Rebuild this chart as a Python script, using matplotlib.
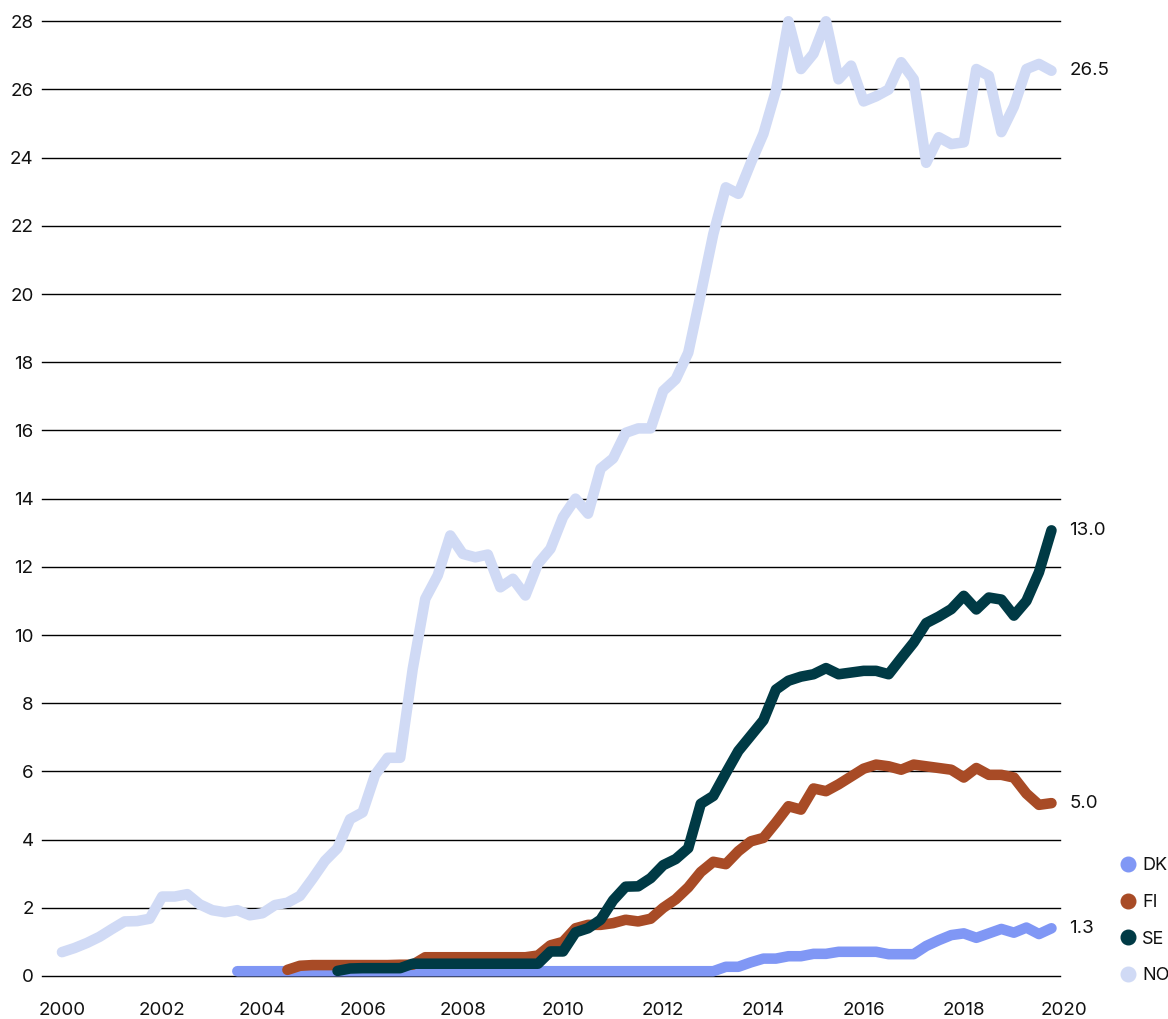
import matplotlib.pyplot as plt
from matplotlib.lines import Line2D
import numpy as np

plt.rcParams['font.family'] = ['Inter', 'DejaVu Sans']

nan = np.nan

# quarterly observations, 2000 Q1 .. 2019 Q4
quarters = 2000 + np.arange(80) / 4

countries = ['DK', 'FI', 'SE', 'NO']
colors = ['#8097f5', '#a84b26', '#003a45', '#d0daf5']
end_labels = ['1.3', '5.0', '13.0', '26.5']

no_values = [0.70, 0.82, 0.97, 1.15, 1.38, 1.60, 1.61, 1.68, 2.33, 2.33,
             2.40, 2.10, 1.93, 1.87, 1.93, 1.78, 1.84, 2.08, 2.15, 2.35,
             2.85, 3.38, 3.75, 4.60, 4.80, 5.90, 6.40, 6.40, 9.00, 11.06,
             11.75, 12.92, 12.38, 12.28, 12.36, 11.40, 11.65, 11.16, 12.09, 12.53,
             13.46, 14.00, 13.56, 14.88, 15.18, 15.93, 16.06, 16.06, 17.16, 17.50,
             18.28, 20.00, 21.76, 23.13, 22.94, 23.85, 24.70, 25.97, 28.00, 26.60,
             27.05, 28.00, 26.30, 26.70, 25.65, 25.80, 26.00, 26.80, 26.30, 23.85,
             24.60, 24.40, 24.45, 26.60, 26.40, 24.75, 25.50, 26.60, 26.75, 26.55]

se_values = [nan, nan, nan, nan, nan, nan, nan, nan, nan, nan,
             nan, nan, nan, nan, nan, nan, nan, nan, nan, nan,
             nan, nan, 0.15, 0.22, 0.23, 0.23, 0.23, 0.23, 0.36, 0.36,
             0.36, 0.36, 0.36, 0.36, 0.36, 0.36, 0.36, 0.36, 0.36, 0.72,
             0.72, 1.28, 1.40, 1.65, 2.22, 2.62, 2.63, 2.87, 3.25, 3.43,
             3.75, 5.05, 5.28, 5.95, 6.60, 7.05, 7.50, 8.40, 8.66, 8.78,
             8.85, 9.03, 8.85, 8.90, 8.95, 8.95, 8.85, 9.32, 9.78, 10.35,
             10.54, 10.76, 11.15, 10.75, 11.10, 11.04, 10.57, 11.00, 11.84, 13.07]

fi_values = [nan, nan, nan, nan, nan, nan, nan, nan, nan, nan,
             nan, nan, nan, nan, nan, nan, nan, nan, 0.18, 0.30,
             0.32, 0.32, 0.32, 0.32, 0.32, 0.32, 0.32, 0.33, 0.33, 0.55,
             0.55, 0.55, 0.55, 0.55, 0.55, 0.55, 0.55, 0.55, 0.60, 0.90,
             1.00, 1.40, 1.50, 1.50, 1.55, 1.65, 1.60, 1.68, 2.00, 2.25,
             2.60, 3.05, 3.35, 3.28, 3.66, 3.95, 4.05, 4.50, 4.98, 4.88,
             5.50, 5.42, 5.62, 5.85, 6.08, 6.20, 6.15, 6.05, 6.20, 6.15,
             6.10, 6.05, 5.82, 6.10, 5.90, 5.90, 5.82, 5.35, 5.02, 5.07]

dk_values = [nan, nan, nan, nan, nan, nan, nan, nan, nan, nan,
             nan, nan, nan, nan, 0.14, 0.14, 0.14, 0.14, 0.14, 0.14,
             0.14, 0.14, 0.14, 0.14, 0.14, 0.14, 0.14, 0.14, 0.14, 0.14,
             0.14, 0.14, 0.14, 0.14, 0.14, 0.14, 0.14, 0.14, 0.14, 0.14,
             0.14, 0.14, 0.14, 0.14, 0.14, 0.14, 0.14, 0.14, 0.14, 0.14,
             0.14, 0.14, 0.14, 0.27, 0.27, 0.40, 0.51, 0.51, 0.58, 0.58,
             0.65, 0.65, 0.71, 0.71, 0.71, 0.71, 0.64, 0.64, 0.64, 0.88,
             1.05, 1.20, 1.25, 1.12, 1.25, 1.38, 1.27, 1.42, 1.23, 1.40]

series = [dk_values, fi_values, se_values, no_values]

fig = plt.figure(figsize=(11.68, 10.19), dpi=100)
ax = fig.add_axes([42 / 1168, 43 / 1019, 1024 / 1168, 954.7 / 1019])

ax.set_xlim(1999.601, 2020.04)
ax.set_ylim(0, 28)

# horizontal rules stop a little before the right edge
for y in range(0, 29, 2):
    ax.axhline(y, xmin=0, xmax=0.994, color='black', lw=1.0, zorder=1, clip_on=False)

# NO drawn first, then DK, FI, SE on top
draw_order = [3, 0, 1, 2]
for k in draw_order:
    vals = np.array(series[k], dtype=float)
    ax.plot(quarters, vals, color=colors[k], lw=7.6, solid_capstyle='round',
            solid_joinstyle='round', clip_on=False, zorder=3 + k)
    last = np.where(~np.isnan(vals))[0][-1]
    ax.annotate(end_labels[k], xy=(quarters[last], vals[last]), xytext=(13, 0),
                textcoords='offset points', va='center', ha='left',
                fontsize=13.5, color='#111111', annotation_clip=False)

ax.set_yticks(range(0, 29, 2))
ax.set_xticks(range(2000, 2021, 2))
ax.tick_params(axis='both', length=0, labelsize=13.5, labelcolor='#111111')
ax.tick_params(axis='y', pad=6)
ax.tick_params(axis='x', pad=19)
for side in ['top', 'right', 'left', 'bottom']:
    ax.spines[side].set_visible(False)

handles = [Line2D([], [], marker='o', linestyle='none', markersize=10.5,
                  markerfacecolor=c, markeredgecolor=c) for c in colors]
fig.legend(handles, countries, loc='lower left', bbox_to_anchor=(1117 / 1168, 35 / 1019),
           frameon=False, fontsize=13, labelspacing=1.08, handletextpad=0.2,
           borderpad=0, borderaxespad=0, handlelength=1.2, labelcolor='#111111')

fig.savefig('out.png', dpi=100)
